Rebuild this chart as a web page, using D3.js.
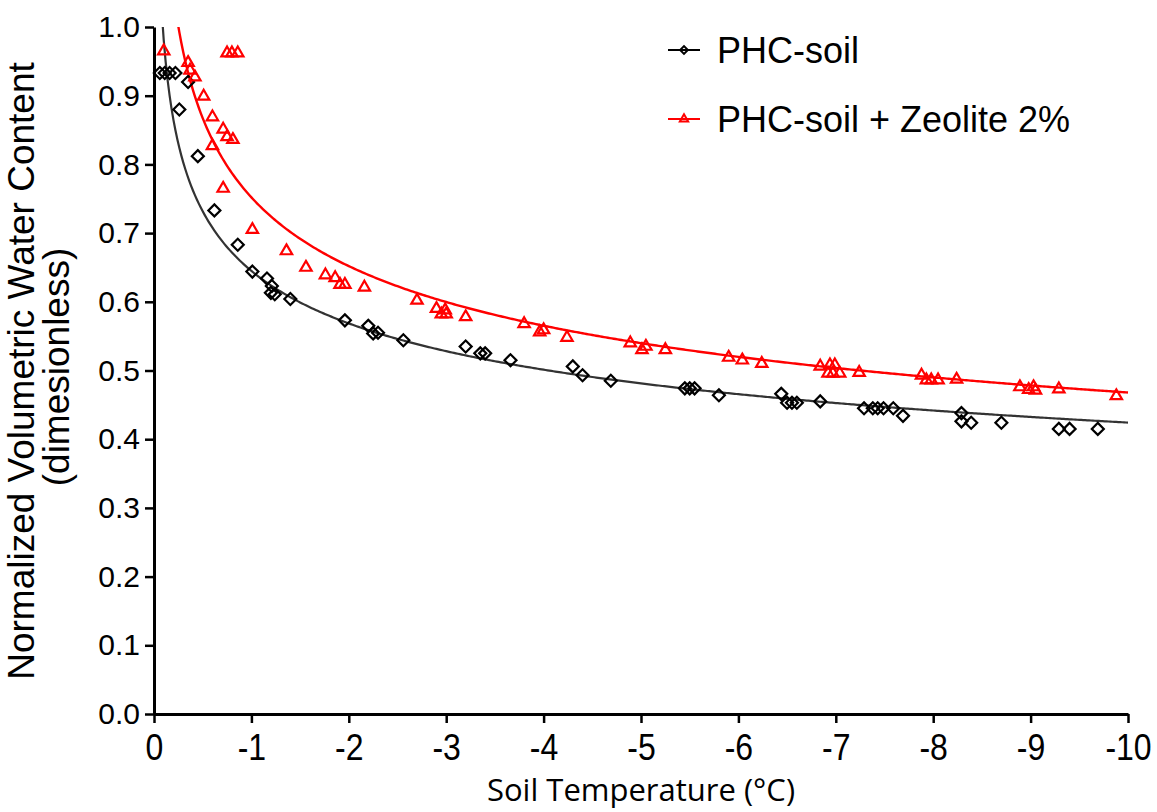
<!DOCTYPE html>
<html>
<head>
<meta charset="utf-8">
<script src="https://cdn.jsdelivr.net/npm/d3@7"></script>
<style>
  body { margin: 0; background: #fff; }
  .tick-label { font-family: "Liberation Sans", Arial, sans-serif; font-size: 30px; fill: #000; }
  .axis-title { font-family: "Liberation Sans", Arial, sans-serif; font-size: 37px; fill: #000; }
  .x-title { font-family: "Open Sans", sans-serif; font-size: 31px; fill: #000; }
  .legend-text { font-family: "Liberation Sans", Arial, sans-serif; font-size: 36px; fill: #000; }
</style>
</head>
<body>
<div id="chart"></div>
<script>
// Data: temperature (°C) and normalized water content.
const phcTemp = [-0.06, -0.11, -0.16, -0.22, -0.35, -0.26, -0.45, -0.62, -0.86, -1.01, -1.16, -1.21, -1.20, -1.24,
  -1.40, -1.96, -2.20, -2.25, -2.30, -2.56, -3.20, -3.35, -3.40, -3.66, -4.30, -4.40, -4.69, -5.45, -5.50, -5.55,
  -5.80, -6.44, -6.50, -6.55, -6.60, -6.84, -7.29, -7.38, -7.43, -7.49, -7.59, -7.69, -8.29, -8.29, -8.39, -8.70,
  -9.29, -9.40, -9.69];
const phcTheta = [0.933, 0.933, 0.933, 0.933, 0.920, 0.880, 0.812, 0.733, 0.683, 0.644, 0.634, 0.623, 0.613, 0.611,
  0.604, 0.573, 0.565, 0.554, 0.555, 0.544, 0.535, 0.525, 0.525, 0.515, 0.506, 0.493, 0.485, 0.474, 0.474, 0.474,
  0.464, 0.466, 0.453, 0.453, 0.453, 0.455, 0.445, 0.445, 0.445, 0.445, 0.445, 0.434, 0.438, 0.426, 0.424, 0.424,
  0.415, 0.415, 0.415];

const zeoTemp = [-0.10, -0.75, -0.80, -0.86, -0.35, -0.37, -0.42, -0.51, -0.60, -0.71, -0.75, -0.81, -0.60, -0.71,
  -1.01, -1.36, -1.56, -1.76, -1.86, -1.91, -1.96, -2.16, -2.70, -2.90, -2.95, -3.00, -2.99, -3.20, -3.80, -3.96,
  -4.00, -4.24, -4.89, -5.01, -5.05, -5.25, -5.90, -6.04, -6.24, -6.84, -6.94, -6.99, -6.92, -6.97, -7.04, -7.24,
  -7.88, -7.93, -7.98, -8.05, -8.24, -8.89, -8.98, -9.03, -9.05, -9.29, -9.88];
const zeoTheta = [0.965, 0.962, 0.962, 0.962, 0.948, 0.937, 0.927, 0.899, 0.869, 0.851, 0.840, 0.836, 0.827, 0.765,
  0.705, 0.674, 0.650, 0.639, 0.635, 0.625, 0.625, 0.621, 0.602, 0.590, 0.582, 0.582, 0.588, 0.578, 0.568, 0.556,
  0.559, 0.548, 0.540, 0.530, 0.535, 0.530, 0.519, 0.515, 0.510, 0.506, 0.508, 0.508, 0.496, 0.496, 0.496, 0.497,
  0.493, 0.486, 0.486, 0.486, 0.487, 0.476, 0.472, 0.476, 0.471, 0.473, 0.463];

// Power-law fit parameters (theta = a * |T|^-b), estimated from the drawn curves
const phcFit = { a: 0.645, b: 0.182 };
const zeoFit = { a: 0.752, b: 0.206 };

const xTicks = [0, -1, -2, -3, -4, -5, -6, -7, -8, -9, -10];
const yTicks = [0, 0.1, 0.2, 0.3, 0.4, 0.5, 0.6, 0.7, 0.8, 0.9, 1.0];

const width = 1157, height = 812;
const mLeft = 154, mRight = 1128, mTop = 27, mBottom = 714;

const svg = d3.select("#chart").append("svg")
  .attr("width", width)
  .attr("height", height);

const x = d3.scaleLinear().domain([0, -10]).range([mLeft, mRight]);
const y = d3.scaleLinear().domain([0, 1]).range([mBottom, mTop]);

svg.append("clipPath").attr("id", "plot")
  .append("rect").attr("x", mLeft).attr("y", mTop).attr("width", mRight - mLeft + 4).attr("height", mBottom - mTop);

// fitted curves
const curveLine = d3.line().x(d => x(d[0])).y(d => y(d[1]));
function fitPoints(fit) {
  const pts = [];
  for (let t = -0.02; t >= -10; t -= 0.02) pts.push([t, fit.a * Math.pow(-t, -fit.b)]);
  return pts;
}
svg.append("path")
  .datum(fitPoints(phcFit))
  .attr("clip-path", "url(#plot)")
  .attr("fill", "none")
  .attr("stroke", "#333")
  .attr("stroke-width", 2.2)
  .attr("d", curveLine);
svg.append("path")
  .datum(fitPoints(zeoFit))
  .attr("clip-path", "url(#plot)")
  .attr("fill", "none")
  .attr("stroke", "#ff0000")
  .attr("stroke-width", 2.4)
  .attr("d", curveLine);

// markers
const diamond = d3.symbol().type(d3.symbolSquare).size(72);
const triangle = d3.symbol().type(d3.symbolTriangle).size(56);

svg.append("g").selectAll("path")
  .data(phcTemp.map((t, i) => [t, phcTheta[i]]))
  .join("path")
  .attr("d", diamond)
  .attr("transform", d => `translate(${x(d[0])},${y(d[1])}) rotate(45)`)
  .attr("fill", "none")
  .attr("stroke", "#000")
  .attr("stroke-width", 2.2);

svg.append("g").selectAll("path")
  .data(zeoTemp.map((t, i) => [t, zeoTheta[i]]))
  .join("path")
  .attr("d", triangle)
  .attr("transform", d => `translate(${x(d[0])},${y(d[1])})`)
  .attr("fill", "none")
  .attr("stroke", "#ff0000")
  .attr("stroke-width", 2.2);

// axes
const xAxis = svg.append("g")
  .attr("transform", `translate(0,${mBottom})`)
  .call(d3.axisBottom(x).tickValues(xTicks).tickSize(9).tickSizeOuter(0).tickFormat(d => d === 0 ? "0" : "-" + Math.abs(d)));
xAxis.select(".domain").attr("stroke", "#000").attr("stroke-width", 3);
xAxis.selectAll(".tick line").attr("stroke-width", 2.5);
xAxis.selectAll(".tick text")
  .attr("class", "tick-label")
  .style("font-size", "32px")
  .attr("y", 0).attr("dy", 0)
  .attr("transform", "translate(0,46) scale(1,1.17)");

const yAxis = svg.append("g")
  .attr("transform", `translate(${mLeft},0)`)
  .call(d3.axisLeft(y).tickValues(yTicks).tickSize(9).tickSizeOuter(0).tickFormat(d3.format(".1f")));
yAxis.select(".domain").attr("stroke", "#000").attr("stroke-width", 3);
yAxis.selectAll(".tick line").attr("stroke-width", 2.5);
yAxis.selectAll(".tick text").attr("class", "tick-label").attr("x", -14);

// axis titles
svg.append("text")
  .attr("class", "x-title")
  .attr("x", (mLeft + mRight) / 2)
  .attr("y", 801)
  .attr("text-anchor", "middle")
  .text("Soil Temperature (°C)");

const yMid = 371;
svg.append("text")
  .attr("class", "axis-title")
  .attr("transform", `translate(34,${yMid}) rotate(-90)`)
  .attr("text-anchor", "middle")
  .text("Normalized Volumetric Water Content");
svg.append("text")
  .attr("class", "axis-title")
  .attr("transform", `translate(69,${yMid - 4}) rotate(-90)`)
  .attr("text-anchor", "middle")
  .text("(dimesionless)");

// legend
const legendDiamond = d3.symbol().type(d3.symbolSquare).size(30);
const legendTriangle = d3.symbol().type(d3.symbolTriangle).size(30);
const legend = [
  { label: "PHC-soil", color: "#000", sym: legendDiamond, rot: 45, yPos: 50 },
  { label: "PHC-soil + Zeolite 2%", color: "#ff0000", sym: legendTriangle, rot: 0, yPos: 119 }
];
legend.forEach(l => {
  svg.append("line")
    .attr("x1", 668).attr("x2", 700)
    .attr("y1", l.yPos).attr("y2", l.yPos)
    .attr("stroke", l.color).attr("stroke-width", 2);
  svg.append("path")
    .attr("d", l.sym())
    .attr("transform", `translate(684,${l.yPos}) rotate(${l.rot})`)
    .attr("fill", "none").attr("stroke", l.color).attr("stroke-width", 2);
  svg.append("text")
    .attr("class", "legend-text")
    .attr("x", 717).attr("y", l.yPos)
    .attr("dy", "0.36em")
    .text(l.label);
});
</script>
</body>
</html>
